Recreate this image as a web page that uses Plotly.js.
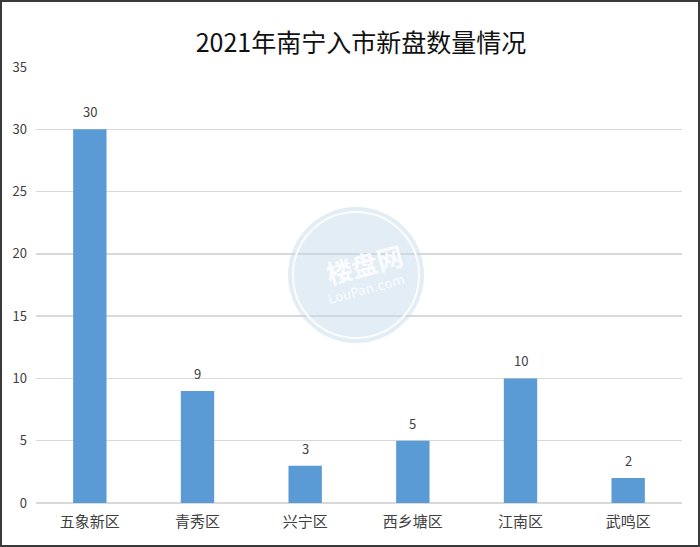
<!DOCTYPE html>
<html>
<head>
<meta charset="utf-8">
<script src="https://cdn.plot.ly/plotly-3.0.1.min.js"></script>
<style>html,body{margin:0;padding:0;background:#fff;}#chart{width:700px;height:547px;}</style>
</head>
<body>
<div id="chart"></div>
<script>
const categories = ["五象新区", "青秀区", "兴宁区", "西乡塘区", "江南区", "武鸣区"];
const values = [30, 9, 3, 5, 10, 2];
const yTicks = [0, 5, 10, 15, 20, 25, 30, 35];
const chartTitle = "2021年南宁入市新盘数量情况";

const W = 700, H = 547;
const M = {l: 36, r: 18, t: 67, b: 44};
const pw = W - M.l - M.r, ph = H - M.t - M.b;
const px = x => (x - M.l) / pw;
const py = y => (H - M.b - y) / ph;

const font = "'Noto Sans CJK SC', 'Noto Sans', sans-serif";

const trace = {
  type: "bar",
  x: categories,
  y: values,
  marker: {color: "#5B9BD5", line: {width: 0}},
  hoverinfo: "none",
  cliponaxis: false
};

const labels = categories.map((c, i) => ({
  x: c, y: values[i], xref: "x", yref: "y",
  text: String(values[i]), showarrow: false,
  yanchor: "bottom", yshift: 6,
  font: {family: font, size: 13, color: "#404040"}
}));

const cx = 356, cy = 275, r = 68;
const watermark = [
  {type: "circle", xref: "paper", yref: "paper", layer: "above",
   x0: px(cx - r), x1: px(cx + r), y0: py(cy + r), y1: py(cy - r),
   fillcolor: "rgba(190,215,235,0.45)", line: {color: "rgba(255,255,255,0)", width: 0}},
  {type: "circle", xref: "paper", yref: "paper", layer: "above",
   x0: px(cx - r + 5), x1: px(cx + r - 5), y0: py(cy + r - 5), y1: py(cy - r + 5),
   fillcolor: "rgba(0,0,0,0)", line: {color: "rgba(255,255,255,0.9)", width: 2}}
];
const wmText = [
  {xref: "paper", yref: "paper", x: px(cx + 8), y: py(cy - 12), text: "<b>楼盘网</b>",
   showarrow: false, textangle: -15, font: {family: font, size: 26, color: "rgba(255,255,255,0.9)"}},
  {xref: "paper", yref: "paper", x: px(cx + 10), y: py(cy + 14), text: "LouPan.com",
   showarrow: false, textangle: -15, font: {family: "'DejaVu Sans', sans-serif", size: 13, color: "rgba(255,255,255,0.9)"}}
];

const border = {type: "rect", xref: "paper", yref: "paper", layer: "above",
  x0: px(1), x1: px(W - 1), y0: py(H - 1), y1: py(1),
  line: {color: "#3a3a3a", width: 2}, fillcolor: "rgba(0,0,0,0)"};

const layout = {
  width: W, height: H,
  margin: M,
  paper_bgcolor: "#fff", plot_bgcolor: "#fff",
  showlegend: false,
  bargap: 0.69,
  title: {text: chartTitle, x: px(361), xref: "paper", xanchor: "center", y: 1 - 43 / H, yanchor: "middle",
          font: {family: font, size: 25, color: "#111"}},
  xaxis: {type: "category", showgrid: false, showline: false, zeroline: false, ticks: "",
          tickfont: {family: font, size: 15, color: "#404040"}, ticklabelstandoff: 8, fixedrange: true},
  yaxis: {range: [0, 35], tickvals: yTicks, ticktext: yTicks.map(String), showgrid: true,
          gridcolor: "#D9D9D9", gridwidth: 1.5, zeroline: true, zerolinecolor: "#D9D9D9", zerolinewidth: 1.5,
          showline: false, ticks: "", ticklabelstandoff: 8,
          tickfont: {family: font, size: 13, color: "#404040"}, fixedrange: true},
  shapes: watermark.concat([border]),
  annotations: labels.concat(wmText)
};

Plotly.newPlot("chart", [trace], layout, {displayModeBar: false, staticPlot: true});
</script>
</body>
</html>
